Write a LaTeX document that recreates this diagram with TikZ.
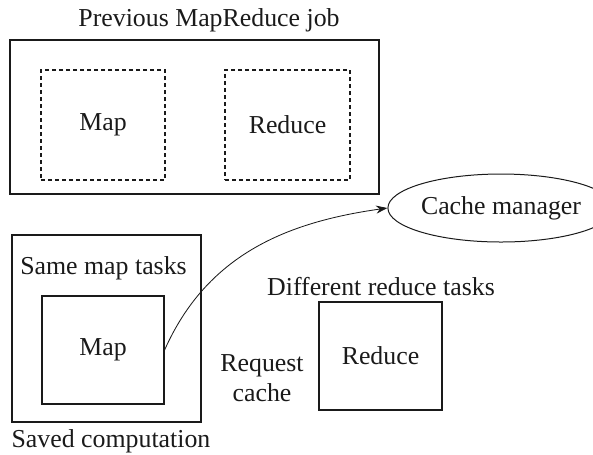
\documentclass[tikz,border=0pt]{standalone}
\usepackage{fontspec}
\setmainfont{Liberation Serif}
\usetikzlibrary{arrows.meta,positioning,shapes.geometric}
\definecolor{ink}{HTML}{1A1A1A}
\tikzset{
  jobbox/.style   ={draw=ink, line width=0.8pt, fill=white, inner sep=0pt},
  dashbox/.style  ={draw=ink, dash pattern=on 2.4pt off 1.8pt, line width=0.7pt, inner sep=0pt},
  taskbox/.style  ={draw=ink, line width=0.7pt, inner sep=0pt},
  mgrnode/.style  ={draw=ink, ellipse, line width=0.6pt, inner sep=0pt},
  caption/.style  ={font=\fontsize{15.5}{18}\selectfont, align=center, text=ink},
  cachearr/.style ={-{Stealth[length=2.4mm,width=1.7mm]}, line width=0.5pt, draw=ink},
}
\begin{document}
\begin{tikzpicture}[x=0.6pt,y=-0.6pt]
  \useasboundingbox (0,0) rectangle (593,454);

  % previous job with its two phases
  \node[caption] (prevtitle) at (209,20) {Previous MapReduce job};
  \node[jobbox,minimum width=369*0.6pt,minimum height=154*0.6pt] (prevjob) at (194.5,117) {};
  \node[dashbox,minimum width=124*0.6pt,minimum height=110*0.6pt,caption] (prevmap) at (103,125) {Map};
  \node[dashbox,minimum width=125*0.6pt,minimum height=110*0.6pt,caption] (prevreduce) at (287.5,125) {Reduce};

  \node[mgrnode,minimum width=180*0.6pt,minimum height=68*0.6pt,caption] (cachemgr) at (501,208) {Cache manager};

  % new job: reused map side
  \node[taskbox,minimum width=189*0.6pt,minimum height=187*0.6pt] (sametasks) at (106.5,328.5) {};
  \node[caption] (samelabel) at (103.5,268) {Same map tasks};
  \node[taskbox,minimum width=122*0.6pt,minimum height=108*0.6pt,caption] (newmap) at (103,350) {Map};
  \node[caption] (savedlabel) at (111,441) {Saved computation};

  % new job: reduce side
  \node[caption] (difflabel) at (381,287) {Different reduce tasks};
  \node[taskbox,minimum width=123*0.6pt,minimum height=108*0.6pt,caption] (newreduce) at (380.5,356) {Reduce};
  \node[caption] (reqlabel) at (262,378) {Request\\cache};

  \draw[cachearr] (newmap.east) to[out=66,in=188] (cachemgr.west);
\end{tikzpicture}
\end{document}
